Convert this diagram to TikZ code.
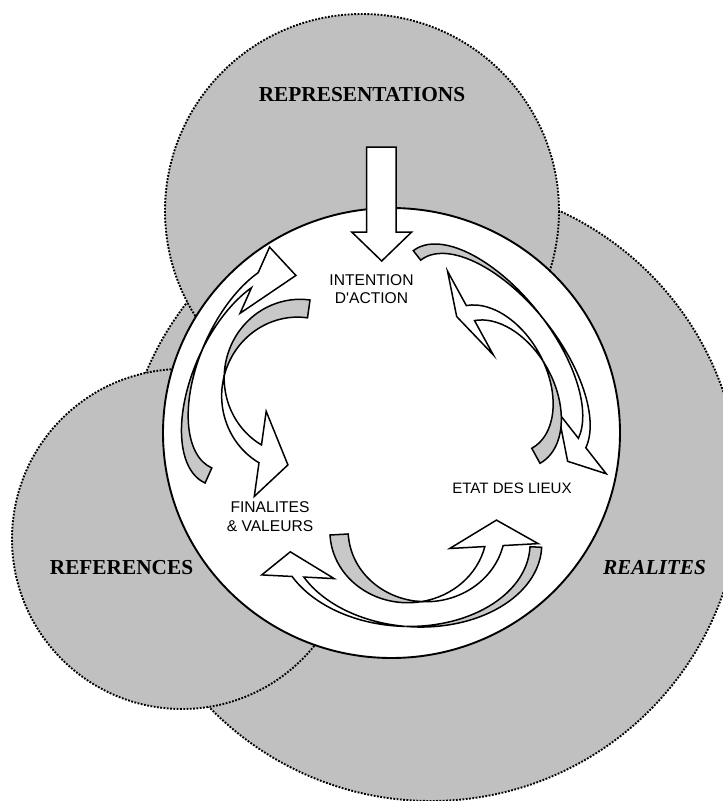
\documentclass[tikz,border=0pt]{standalone}
\usepackage{fontspec}
\setmainfont{Liberation Serif}
\newfontfamily\arialfont{Liberation Sans}[Ligatures=TeXOff]
\definecolor{bg}{RGB}{192,192,192}
\definecolor{bandgray}{RGB}{200,200,200}
\tikzset{
  bigcirc/.style={fill=bg, draw=black, line width=1.9pt, dash pattern=on 1.8pt off 1.5pt},
  ribbonline/.style={draw=black, line width=1.5pt, line join=miter},
  lbl/.style={font=\arialfont\fontsize{15.6}{18.3}\selectfont, align=center, inner sep=0pt},
  title/.style={font=\bfseries\fontsize{21.3}{24}\selectfont, inner sep=0pt},
}
% #1 cm spec, #2 thickness t, #3 head base u, #4 tip u, #5 head half width, #6 tip offset
\newcommand{\ribbon}[6]{%
  \pgfmathsetmacro{\rbB}{asin((#2)/2)}%
  \pgfmathsetmacro{\rbTe}{360-acos(#3)}%
  \pgfmathsetmacro{\rbSe}{-sqrt(1-(#3)*(#3))}%
  \pgfmathsetmacro{\rbYm}{\rbSe-(#2)/2}%
  \begin{scope}[cm={#1}]
    \filldraw[ribbonline, fill=bandgray] (0,1)
      arc[start angle=90, end angle={180+\rbB}, radius=1]
      arc[start angle={180-\rbB}, end angle=90, radius=1] -- cycle;
    \filldraw[ribbonline, fill=white] ({-cos(\rbB)},{-(#2)/2})
      arc[start angle={180-\rbB}, end angle=\rbTe, radius=1]
      -- (#3,{\rbYm-(#5)}) -- (#4,{\rbYm+(#6)}) -- (#3,{\rbYm+(#5)})
      -- (#3,\rbSe)
      arc[start angle=\rbTe, end angle={180+\rbB}, radius=1] -- cycle;
  \end{scope}}
\begin{document}
\begin{tikzpicture}[x=1pt,y=-1pt]
\useasboundingbox (0,0) rectangle (723,801);
\begin{scope}
  \clip (0,0) rectangle (723,801);
  % big background circles
  \path[bigcirc] (431,492) circle[radius=309];
  \path[bigcirc] (362,211) circle[radius=197];
  \path[bigcirc] (182,539) circle[radius=170];
\end{scope}
% central white circle
\path[draw=black, fill=white, line width=1.9pt] (391.5,433) ellipse[x radius=228.5, y radius=225];
% straight arrow from REPRESENTATIONS
\draw[ribbonline, fill=white] (366.7,147) -- (396,147) -- (396,232) -- (411.7,232)
  -- (381.7,261) -- (351.7,232) -- (366.7,232) -- cycle;
% curved ribbon arrows
\ribbon{52.1,-23.2,45.6,102.4,(250.7,380.6)}{0.147}{-0.65}{-0.026}{0.323}{-0.1875}
\ribbon{74.25,-10.4,-10.8,-77.2,(299.2,377.2)}{0.231}{-0.373}{0.013}{0.551}{-0.091}
\ribbon{-47.4,-37.2,78.1,-99.5,(491.4,350.2)}{0.095}{-0.233}{0.143}{0.309}{-0.043}
\ribbon{-45.6,-25,-38,69.5,(502,393.8)}{0.216}{-0.212}{0.052}{0.602}{-0.045}
\ribbon{4.4,85.9,-125.8,6.4,(415.9,540.9)}{0.093}{-0.486}{-0.201}{0.288}{-0.071}
\ribbon{-4,71.9,78.4,4.3,(408.4,530.7)}{0.233}{-0.278}{0.08}{0.564}{-0.05}
% texts
\node[title] (rep) at (362,95) {REPRESENTATIONS};
\node[title] (ref) at (121.5,568) {REFERENCES};
\node[title, font=\bfseries\itshape\fontsize{21.3}{24}\selectfont] (real) at (654.5,567.5) {REALITES};
\node[lbl] (intention) at (371.5,289) {INTENTION\\D'ACTION};
\node[lbl, font=\arialfont\fontsize{15.1}{18.3}\selectfont] (etat) at (512,488.3) {ETAT DES LIEUX};
\node[lbl] (finalites) at (270,516.5) {FINALITES\\\& VALEURS};
\end{tikzpicture}
\end{document}
